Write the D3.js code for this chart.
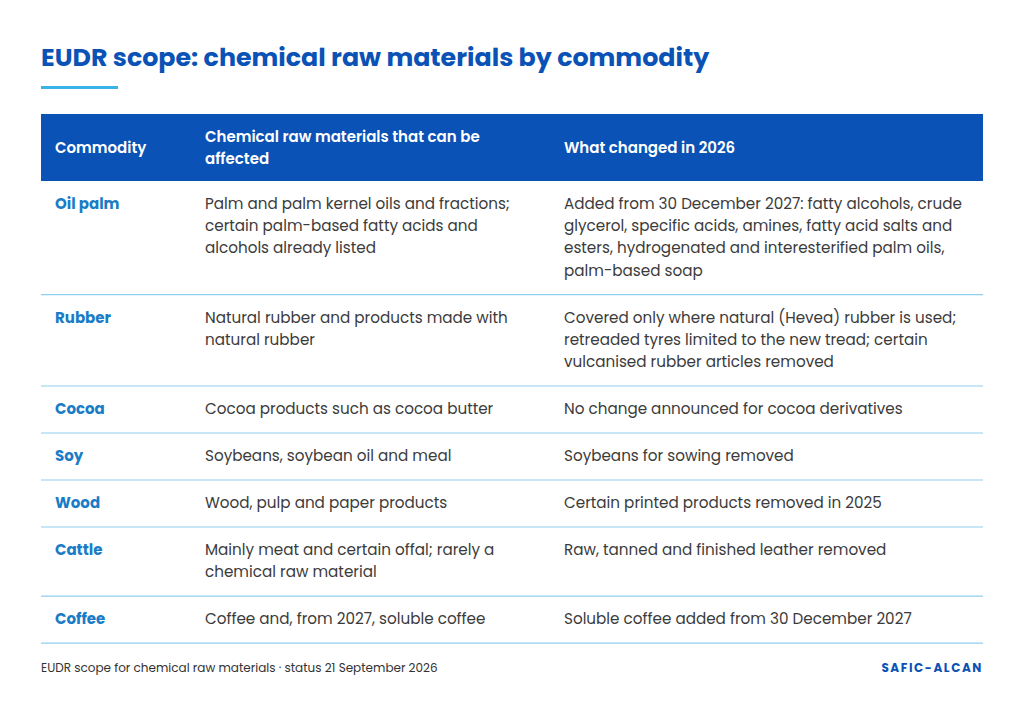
<!DOCTYPE html>
<html>
<head>
<meta charset="utf-8">
<script src="https://cdn.jsdelivr.net/npm/d3@7"></script>
<style>
  body { margin: 0; background: #fff; }
  svg { font-family: Poppins, Inter, "Noto Sans", sans-serif; }
</style>
</head>
<body>
<svg id="chart" width="1024" height="709"></svg>
<script>
const headers = [['Commodity'], ['Chemical raw materials that can be', 'affected'], ['What changed in 2026']];
const commodities = ['Oil palm', 'Rubber', 'Cocoa', 'Soy', 'Wood', 'Cattle', 'Coffee'];
const materials = [
  ['Palm and palm kernel oils and fractions;', 'certain palm-based fatty acids and', 'alcohols already listed'],
  ['Natural rubber and products made with', 'natural rubber'],
  ['Cocoa products such as cocoa butter'],
  ['Soybeans, soybean oil and meal'],
  ['Wood, pulp and paper products'],
  ['Mainly meat and certain offal; rarely a', 'chemical raw material'],
  ['Coffee and, from 2027, soluble coffee']
];
const changes = [
  ['Added from 30 December 2027: fatty alcohols, crude', 'glycerol, specific acids, amines, fatty acid salts and', 'esters, hydrogenated and interesterified palm oils,', 'palm-based soap'],
  ['Covered only where natural (Hevea) rubber is used;', 'retreaded tyres limited to the new tread; certain', 'vulcanised rubber articles removed'],
  ['No change announced for cocoa derivatives'],
  ['Soybeans for sowing removed'],
  ['Certain printed products removed in 2025'],
  ['Raw, tanned and finished leather removed'],
  ['Soluble coffee added from 30 December 2027']
];

const svg = d3.select('#chart');
const left = 41, right = 983, colX = [55, 205, 564];
const headTop = 114, headBottom = 181, lineH = 22.2, pad = 24.8;
const blue = '#0a52b5', accent = '#1a7cc6', text = '#3b3b3b';

svg.append('text').attr('x', left).attr('y', 66)
  .attr('font-size', 25.3).attr('font-weight', 700).attr('fill', blue)
  .text('EUDR scope: chemical raw materials by commodity');
svg.append('rect').attr('x', left).attr('y', 86).attr('width', 77).attr('height', 3).attr('fill', '#3ab4e6');

svg.append('rect').attr('x', left).attr('y', headTop).attr('width', right - left)
  .attr('height', headBottom - headTop).attr('fill', blue);
headers.forEach((lines, i) => {
  const mid = (headTop + headBottom) / 2;
  lines.forEach((l, j) => {
    svg.append('text').attr('x', colX[i])
      .attr('y', mid + 5 + (j - (lines.length - 1) / 2) * 22)
      .attr('font-size', 15).attr('font-weight', 600).attr('fill', '#fff').text(l);
  });
});

let y = headBottom;
commodities.forEach((c, i) => {
  const n = Math.max(materials[i].length, changes[i].length);
  const h = n * lineH + pad;
  const g = svg.append('g').attr('transform', `translate(0,${y})`);
  g.append('text').attr('x', colX[0]).attr('y', 28).attr('font-size', 15)
    .attr('font-weight', 700).attr('fill', accent).text(c);
  [materials[i], changes[i]].forEach((lines, k) => {
    lines.forEach((l, j) => {
      g.append('text').attr('x', colX[k + 1]).attr('y', 28 + j * lineH)
        .attr('font-size', 15.2).attr('fill', text).text(l);
    });
  });
  y += h;
  svg.append('line').attr('x1', left).attr('x2', right).attr('y1', y).attr('y2', y)
    .attr('stroke', '#8fd0ee').attr('stroke-width', 1.2);
});

svg.append('text').attr('x', left).attr('y', 672).attr('font-size', 12).attr('fill', '#333')
  .text('EUDR scope for chemical raw materials \u00b7 status 21 September 2026');
svg.append('text').attr('x', right).attr('y', 672).attr('text-anchor', 'end')
  .attr('font-size', 12).attr('font-weight', 700).attr('letter-spacing', 1.6).attr('fill', blue)
  .text('SAFIC-ALCAN');
</script>
</body>
</html>
